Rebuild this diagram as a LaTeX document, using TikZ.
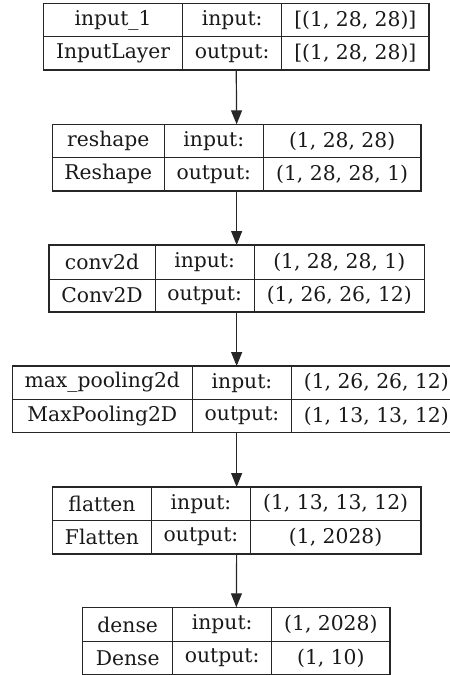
\documentclass[tikz,border=0pt]{standalone}
\usepackage{fontspec}
\setmainfont{DejaVu Serif}
\usetikzlibrary{arrows.meta}

% one table cell: name, x-left, x-right, y-top, y-bottom, text
\newcommand\cell[6]{%
  \node[cellbox, minimum width={(#3-#2)*1pt}, minimum height={(#5-#4)*1pt}]
    (#1) at ({(#2+#3)/2},{(#4+#5)/2}) {#6};}
% outer frame of a layer: name, x-left, x-right, y-top, y-bottom
\newcommand\frm[5]{%
  \node[framebox, minimum width={(#3-#2)*1pt}, minimum height={(#5-#4)*1pt}]
    (#1) at ({(#2+#3)/2},{(#4+#5)/2}) {};}

\tikzset{
  cellbox/.style={draw=black!85, line width=0.9pt, inner sep=0pt, outer sep=0pt,
    font=\fontsize{20.3}{23}\selectfont, text=black!90},
  framebox/.style={draw=black!85, line width=1.2pt, inner sep=0pt, outer sep=0pt},
  flow/.style={draw=black!85, line width=1.2pt,
    -{Triangle[length=14pt, width=11pt]}},
}

\begin{document}
\begin{tikzpicture}[x=1pt, y=-1pt]
\useasboundingbox (0,0) rectangle (450,675);
\clip (0,0) rectangle (450,675);

% input_1
\cell{a1}{43.5}{182.7}{3.3}{36.7}{input\_1}
\cell{a2}{182.7}{281.7}{3.3}{36.7}{input:}
\cell{a3}{281.7}{429}{3.3}{36.7}{[(1, 28, 28)]}
\cell{a4}{43.5}{182.7}{36.7}{70}{InputLayer}
\cell{a5}{182.7}{281.7}{36.7}{70}{output:}
\cell{a6}{281.7}{429}{36.7}{70}{[(1, 28, 28)]}
\frm{L1}{43.5}{429}{3.3}{70}

% reshape
\cell{b1}{52.3}{164.3}{124.3}{157.7}{reshape}
\cell{b2}{164.3}{263.3}{124.3}{157.7}{input:}
\cell{b3}{263.3}{421}{124.3}{157.7}{(1, 28, 28)}
\cell{b4}{52.3}{164.3}{157.7}{191}{Reshape}
\cell{b5}{164.3}{263.3}{157.7}{191}{output:}
\cell{b6}{263.3}{421}{157.7}{191}{(1, 28, 28, 1)}
\frm{L2}{52.3}{421}{124.3}{191}

% conv2d
\cell{c1}{49}{155}{245}{279}{conv2d}
\cell{c2}{155}{254.3}{245}{279}{input:}
\cell{c3}{254.3}{424.3}{245}{279}{(1, 28, 28, 1)}
\cell{c4}{49}{155}{279}{312}{Conv2D}
\cell{c5}{155}{254.3}{279}{312}{output:}
\cell{c6}{254.3}{424.3}{279}{312}{(1, 26, 26, 12)}
\frm{L3}{49}{424.3}{245}{312}

% max_pooling2d
\cell{d1}{12.3}{192.3}{366}{399.3}{max\_pooling2d}
\cell{d2}{192.3}{291.7}{366}{399.3}{input:}
\cell{d3}{291.7}{461}{366}{399.3}{(1, 26, 26, 12)}
\cell{d4}{12.3}{192.3}{399.3}{432.7}{MaxPooling2D}
\cell{d5}{192.3}{291.7}{399.3}{432.7}{output:}
\cell{d6}{291.7}{461}{399.3}{432.7}{(1, 13, 13, 12)}
\frm{L4}{12.3}{461}{366}{432.7}

% flatten
\cell{e1}{52.3}{151.7}{487}{520.3}{flatten}
\cell{e2}{151.7}{250.3}{487}{520.3}{input:}
\cell{e3}{250.3}{421}{487}{520.3}{(1, 13, 13, 12)}
\cell{e4}{52.3}{151.7}{520.3}{554}{Flatten}
\cell{e5}{151.7}{250.3}{520.3}{554}{output:}
\cell{e6}{250.3}{421}{520.3}{554}{(1, 2028)}
\frm{L5}{52.3}{421}{487}{554}

% dense
\cell{f1}{82.7}{172.7}{607.3}{641.7}{dense}
\cell{f2}{172.7}{271.7}{607.3}{641.7}{input:}
\cell{f3}{271.7}{390}{607.3}{641.7}{(1, 2028)}
\cell{f4}{82.7}{172.7}{641.7}{674.3}{Dense}
\cell{f5}{172.7}{271.7}{641.7}{674.3}{output:}
\cell{f6}{271.7}{390}{641.7}{674.3}{(1, 10)}
\frm{L6}{82.7}{390}{607.3}{674.3}

% data flow between layers
\draw[flow] (L1.south) -- (L2.north);
\draw[flow] (L2.south) -- (L3.north);
\draw[flow] (L3.south) -- (L4.north);
\draw[flow] (L4.south) -- (L5.north);
\draw[flow] (L5.south) -- (L6.north);
\end{tikzpicture}
\end{document}
